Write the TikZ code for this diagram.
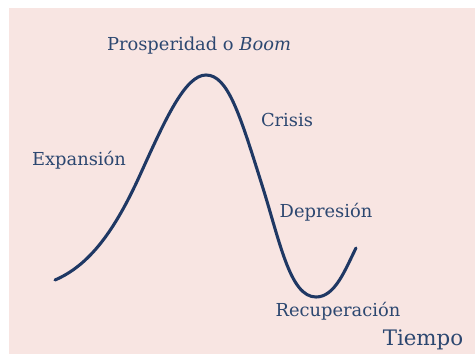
\documentclass[tikz,border=0pt]{standalone}
\usepackage{fontspec}
\setmainfont{DejaVu Serif}
\definecolor{bgpink}{HTML}{F8E5E2}
\definecolor{curveblue}{HTML}{1F3864}
\definecolor{textblue}{HTML}{2C4770}
\tikzset{
  phase/.style={text=textblue, font=\fontsize{13.4}{15}\selectfont, inner sep=0pt},
  axislabel/.style={text=textblue, font=\fontsize{16}{18}\selectfont, inner sep=0pt}
}
\begin{document}
\begin{tikzpicture}[x=0.75pt, y=-0.75pt]
    \useasboundingbox (0,0) rectangle (475,354);
    \fill[bgpink] (9,8) rectangle (475,354);

    % business cycle curve
    \draw[curveblue, line width=2.3pt, line cap=round]
        (55,280) .. controls (90,265) and (115,230) .. (140,175)
        .. controls (165,120) and (185,75) .. (206,75)
        .. controls (228,75) and (240,115) .. (262,185)
        .. controls (280,242) and (290,297) .. (316,297)
        .. controls (335,297) and (345,270) .. (356,248);

    \node[phase] (boom) at (199,46) {Prosperidad o \textit{Boom}};
    \node[phase] (crisis) at (287,120) {Crisis};
    \node[phase] (expansion) at (79,160) {Expansión};
    \node[phase] (depresion) at (326,212) {Depresión};
    \node[phase] (recuperacion) at (338,311) {Recuperación};
    \node[axislabel] (tiempo) at (423,340) {Tiempo};
\end{tikzpicture}
\end{document}
